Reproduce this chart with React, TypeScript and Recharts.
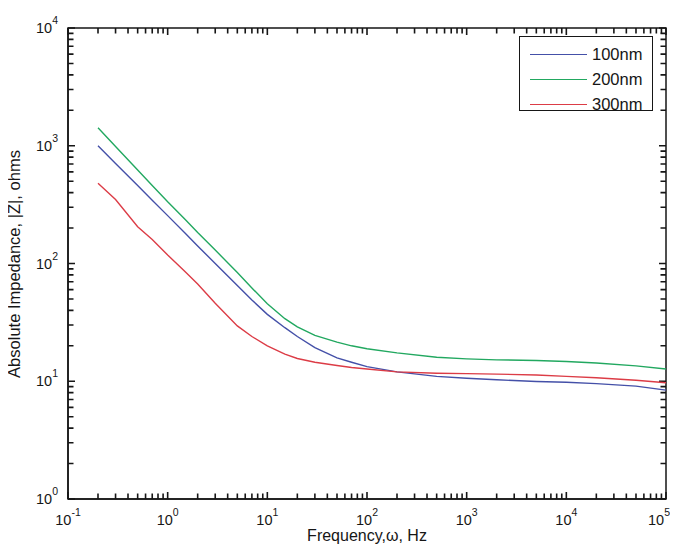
import React from 'react';
import { LineChart, Line, XAxis, YAxis, ReferenceArea, ReferenceLine } from 'recharts';

// Frequency (Hz)
const freqs = [0.2, 0.3, 0.5, 0.7, 1, 1.5, 2, 3, 5, 7, 10, 15, 20, 30, 50, 70, 100, 200, 500, 1000, 2000, 5000, 10000, 20000, 50000, 100000];
// Absolute impedance |Z| (ohms)
const z100nm = [1000, 708, 459, 345, 255, 181, 141, 100, 65, 49, 37, 28.5, 24, 19.3, 15.8, 14.5, 13.3, 12.0, 11.0, 10.6, 10.3, 9.95, 9.8, 9.55, 9.1, 8.4];
const z200nm = [1420, 985, 622, 460, 334, 236, 183, 130, 84, 62, 45.5, 34, 29, 24.5, 21.5, 20, 18.9, 17.4, 16.0, 15.5, 15.2, 15.0, 14.7, 14.3, 13.5, 12.7];
const z300nm = [480, 350, 205, 160, 118, 85, 67, 46, 29.5, 24, 20, 17, 15.6, 14.5, 13.6, 13.1, 12.7, 12.0, 11.7, 11.6, 11.5, 11.3, 11.0, 10.7, 10.2, 9.7];

const seriesNames = ['100nm', '200nm', '300nm'];
const seriesColors = ['#4450a8', '#22a860', '#dc3c46'];

const xDecades = [0.1, 1, 10, 100, 1000, 10000];
const xEnd = 100000;
const yDecades = [1, 10, 100, 1000];
const yEnd = 10000;
const minorMult = [2, 3, 4, 5, 6, 7, 8, 9];

const xMajor = [...xDecades, xEnd];
const yMajor = [...yDecades, yEnd];
const xMinor = xDecades.flatMap((d) => minorMult.map((m) => d * m));
const yMinor = yDecades.flatMap((d) => minorMult.map((m) => d * m));

const data = freqs.map((f, i) => ({ f, a: z100nm[i], b: z200nm[i], c: z300nm[i] }));

const FONT = '"Liberation Sans", Arial, Helvetica, sans-serif';
const AX = '#161616';

// layout
const W = 670;
const H = 540;
const MARGIN = { top: 20, right: 12, left: 0, bottom: 0 };
const X_AXIS_H = 49;
const Y_AXIS_W = 60;
const MAJOR_LEN = 7;
const MINOR_LEN = 5.5;
const TICK_W = 1.6;

const expOf = (v: number) => String(Math.round(Math.log10(v)));

function BottomLabel(props: any) {
  const x = Number(props.x);
  const y = Number(props.y);
  const v = props.payload.value;
  const last = v >= xEnd * 0.999;
  return (
    <text
      x={last ? x + 4 : x}
      y={y + 26}
      textAnchor={last ? 'end' : 'middle'}
      fontSize={14.5}
      fill={AX}
      fontFamily={FONT}
    >
      10
      <tspan dy={-9} fontSize={10.5}>{expOf(v)}</tspan>
    </text>
  );
}

function LeftLabel(props: any) {
  const x = Number(props.x);
  const y = Number(props.y);
  const v = props.payload.value;
  return (
    <text x={x - 10} y={y + 5} textAnchor="end" fontSize={14.5} fill={AX} fontFamily={FONT}>
      10
      <tspan dy={-9} fontSize={10.5}>{expOf(v)}</tspan>
    </text>
  );
}

// inward tick marks at both ends of a vertical reference line
const makeVTicks = (len: number) => (p: any) => {
  const x = Number(p.x1);
  const top = Math.min(Number(p.y1), Number(p.y2));
  const bot = Math.max(Number(p.y1), Number(p.y2));
  return (
    <path d={`M${x},${bot}V${bot - len}M${x},${top}V${top + len}`} stroke={AX} strokeWidth={TICK_W} fill="none" />
  );
};

// inward tick marks at both ends of a horizontal reference line
const makeHTicks = (len: number) => (p: any) => {
  const y = Number(p.y1);
  const left = Math.min(Number(p.x1), Number(p.x2));
  const right = Math.max(Number(p.x1), Number(p.x2));
  return (
    <path d={`M${left},${y}H${left + len}M${right},${y}H${right - len}`} stroke={AX} strokeWidth={TICK_W} fill="none" />
  );
};

const vMajor = makeVTicks(MAJOR_LEN);
const vMinor = makeVTicks(MINOR_LEN);
const hMajor = makeHTicks(MAJOR_LEN);
const hMinor = makeHTicks(MINOR_LEN);

export default function App() {
  return (
    <div style={{ position: 'relative', width: W, height: H, background: '#fff', fontFamily: FONT }}>
      <LineChart width={W} height={H} data={data} margin={MARGIN}>
        <XAxis
          dataKey="f"
          type="number"
          scale="log"
          domain={[0.1, 100000]}
          allowDataOverflow
          ticks={xMajor}
          interval={0}
          tickSize={0}
          tickMargin={0}
          tickLine={false}
          tick={(p: any) => <BottomLabel {...p} />}
          axisLine={{ stroke: AX, strokeWidth: 1.5 }}
          height={X_AXIS_H}
        />
        <YAxis
          type="number"
          scale="log"
          domain={[1, 10000]}
          allowDataOverflow
          ticks={yMajor}
          interval={0}
          tickSize={0}
          tickMargin={0}
          tickLine={false}
          tick={(p: any) => <LeftLabel {...p} />}
          axisLine={{ stroke: AX, strokeWidth: 1.5 }}
          width={Y_AXIS_W}
        />
        <ReferenceArea
          x1={0.1}
          x2={100000}
          y1={1}
          y2={10000}
          fill="none"
          stroke={AX}
          strokeWidth={1.5}
          ifOverflow="visible"
        />
        {xMajor.map((t) => (
          <ReferenceLine key={`xM${t}`} x={t} ifOverflow="visible" shape={vMajor} />
        ))}
        {xMinor.map((t) => (
          <ReferenceLine key={`xm${t}`} x={t} ifOverflow="visible" shape={vMinor} />
        ))}
        {yMajor.map((t) => (
          <ReferenceLine key={`yM${t}`} y={t} ifOverflow="visible" shape={hMajor} />
        ))}
        {yMinor.map((t) => (
          <ReferenceLine key={`ym${t}`} y={t} ifOverflow="visible" shape={hMinor} />
        ))}
        <Line dataKey="a" name={seriesNames[0]} type="linear" stroke={seriesColors[0]} strokeWidth={1.4} dot={false} isAnimationActive={false} />
        <Line dataKey="b" name={seriesNames[1]} type="linear" stroke={seriesColors[1]} strokeWidth={1.4} dot={false} isAnimationActive={false} />
        <Line dataKey="c" name={seriesNames[2]} type="linear" stroke={seriesColors[2]} strokeWidth={1.4} dot={false} isAnimationActive={false} />
      </LineChart>

      {/* Legend */}
      <div
        style={{
          position: 'absolute',
          left: 511,
          top: 28,
          width: 134,
          height: 75,
          border: `1px solid ${AX}`,
          background: '#fff',
          boxSizing: 'border-box',
        }}
      >
        {seriesNames.map((n, i) => (
          <div
            key={n}
            style={{ position: 'absolute', left: 0, top: 5 + i * 25, height: 24, width: '100%', display: 'flex', alignItems: 'center' }}
          >
            <div style={{ marginLeft: 10, width: 57, height: 0, borderTop: `1.4px solid ${seriesColors[i]}` }} />
            <span style={{ marginLeft: 5, fontSize: 16.5, color: AX, lineHeight: '16px' }}>{n}</span>
          </div>
        ))}
      </div>

      {/* Axis labels */}
      <div
        style={{
          position: 'absolute',
          left: 359,
          top: 528,
          transform: 'translate(-50%, -50%)',
          fontSize: 16,
          color: AX,
          whiteSpace: 'nowrap',
          lineHeight: 1,
        }}
      >
        Frequency,ω, Hz
      </div>
      <div
        style={{
          position: 'absolute',
          left: 6,
          top: 256,
          transform: 'translate(-50%, -50%) rotate(-90deg)',
          fontSize: 16.5,
          color: AX,
          whiteSpace: 'nowrap',
          lineHeight: 1,
        }}
      >
        Absolute Impedance, |Z|, ohms
      </div>
    </div>
  );
}
